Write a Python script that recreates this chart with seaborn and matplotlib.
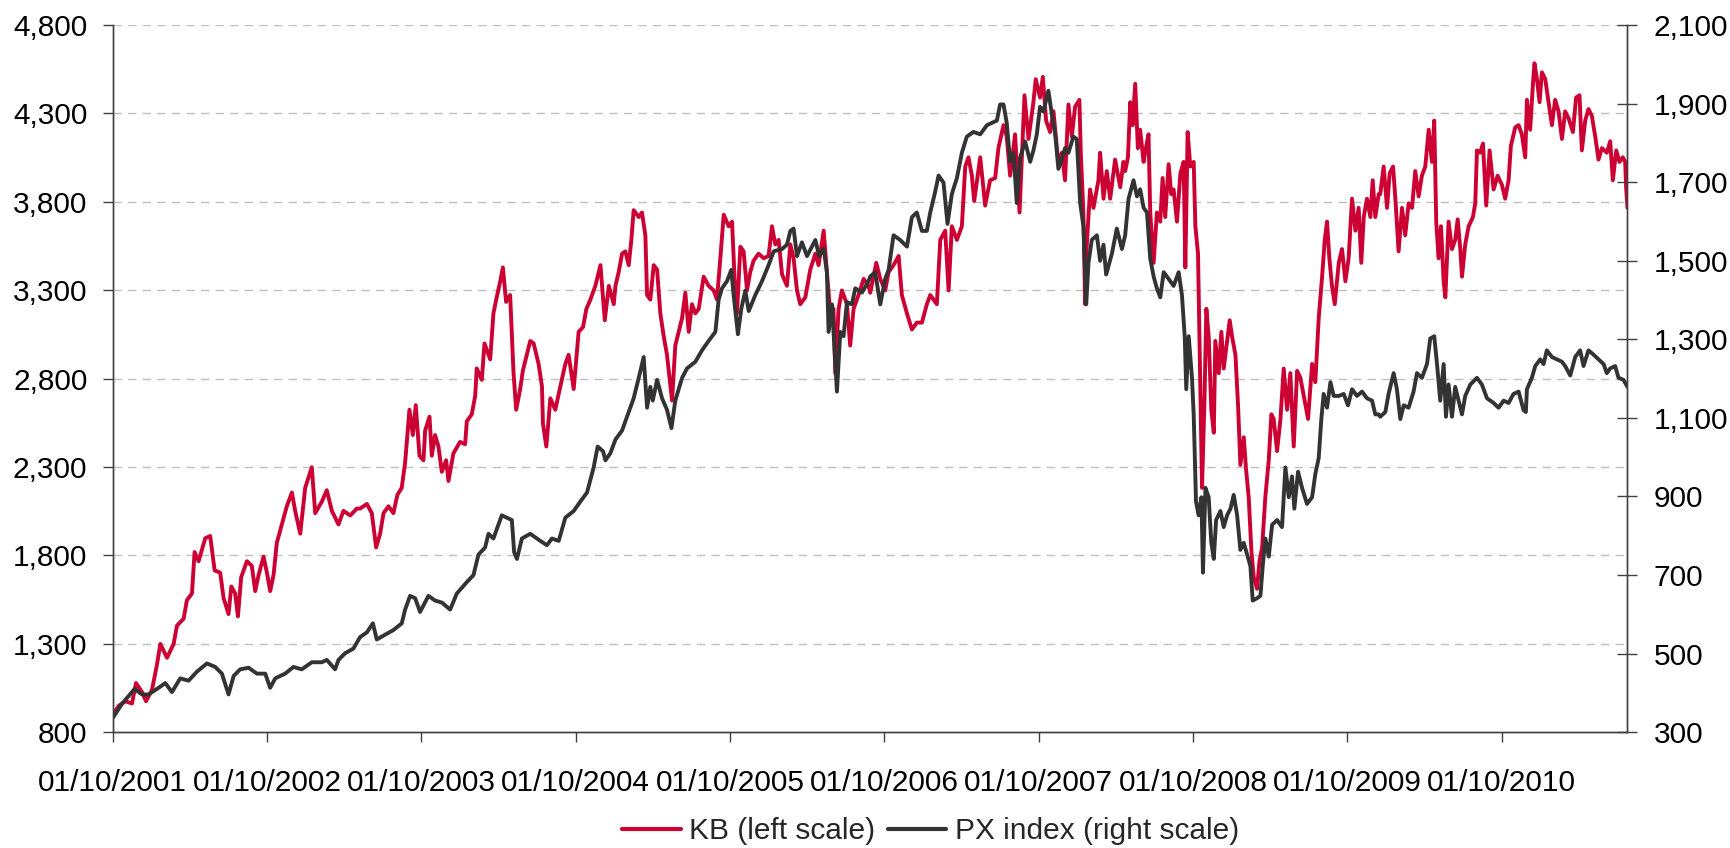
import numpy as np
import pandas as pd
import matplotlib
matplotlib.use("Agg")
import matplotlib.pyplot as plt
import matplotlib.dates as mdates
from matplotlib.lines import Line2D
from matplotlib.ticker import FuncFormatter, FixedLocator
import seaborn as sns

# ---------------- data (decimal years) ----------------
kb_years = [
    2001.750, 2001.787, 2001.830, 2001.873, 2001.899, 2001.938, 2001.964, 2002.003, 2002.035, 2002.057,
    2002.100, 2002.143, 2002.165, 2002.208, 2002.229, 2002.262, 2002.279, 2002.305, 2002.348, 2002.380,
    2002.409, 2002.445, 2002.467, 2002.499, 2002.517, 2002.542, 2002.560, 2002.581, 2002.618, 2002.650,
    2002.672, 2002.694, 2002.726, 2002.748, 2002.769, 2002.791, 2002.812, 2002.845, 2002.877, 2002.910,
    2002.931, 2002.964, 2002.996, 2003.039, 2003.061, 2003.104, 2003.136, 2003.169, 2003.212, 2003.244,
    2003.288, 2003.331,
    2003.352, 2003.396, 2003.428, 2003.456, 2003.482, 2003.504, 2003.536, 2003.568, 2003.594, 2003.622,
    2003.644, 2003.672, 2003.694, 2003.713, 2003.737, 2003.763, 2003.774, 2003.802, 2003.817, 2003.838,
    2003.860, 2003.882, 2003.910, 2003.925, 2003.957, 2004.000, 2004.033, 2004.044, 2004.076, 2004.098,
    2004.108, 2004.141, 2004.158, 2004.195, 2004.216, 2004.234, 2004.260, 2004.277, 2004.298, 2004.324,
    2004.346, 2004.363, 2004.389, 2004.406, 2004.428, 2004.454, 2004.476, 2004.508, 2004.530, 2004.536,
    2004.558, 2004.584, 2004.616, 2004.648, 2004.681, 2004.702, 2004.735, 2004.767, 2004.795, 2004.817,
    2004.843, 2004.875, 2004.908, 2004.936, 2004.962, 2004.994,
    2005.005, 2005.026, 2005.048, 2005.069, 2005.091, 2005.108, 2005.123, 2005.156, 2005.177, 2005.199,
    2005.210, 2005.231, 2005.253, 2005.275, 2005.296, 2005.318, 2005.339, 2005.372, 2005.393, 2005.415,
    2005.437, 2005.458, 2005.480, 2005.501, 2005.523, 2005.545, 2005.577, 2005.609, 2005.642, 2005.663,
    2005.685, 2005.707, 2005.739, 2005.761, 2005.778, 2005.793, 2005.815, 2005.836, 2005.858, 2005.879,
    2005.901, 2005.933, 2005.966, 2005.998, 2006.020, 2006.041, 2006.063, 2006.085, 2006.117, 2006.139,
    2006.160, 2006.182, 2006.203, 2006.236, 2006.268, 2006.301, 2006.322, 2006.355, 2006.376, 2006.398,
    2006.419, 2006.430, 2006.452, 2006.473, 2006.506, 2006.527, 2006.549, 2006.581, 2006.614, 2006.646,
    2006.657, 2006.696, 2006.722, 2006.754, 2006.776, 2006.808, 2006.841, 2006.862, 2006.895, 2006.927,
    2006.959, 2006.992, 2007.024, 2007.046, 2007.089, 2007.111, 2007.143, 2007.165, 2007.186, 2007.219,
    2007.251, 2007.273, 2007.294, 2007.316, 2007.331, 2007.370, 2007.402, 2007.434, 2007.467, 2007.488,
    2007.521, 2007.542, 2007.564, 2007.596, 2007.625, 2007.646, 2007.657, 2007.683, 2007.715, 2007.730,
    2007.758, 2007.776, 2007.797, 2007.823, 2007.845, 2007.877, 2007.899, 2007.920, 2007.942, 2007.964,
    2007.985, 2008.013, 2008.022, 2008.039, 2008.050, 2008.061, 2008.082, 2008.104, 2008.136, 2008.147,
    2008.169, 2008.190, 2008.212, 2008.244, 2008.277, 2008.298,
    2008.309, 2008.327, 2008.342, 2008.357, 2008.374, 2008.391, 2008.406, 2008.428, 2008.443, 2008.460,
    2008.471, 2008.493, 2008.514, 2008.536, 2008.551, 2008.568, 2008.590, 2008.607, 2008.622, 2008.644,
    2008.666, 2008.687, 2008.698, 2008.713, 2008.730, 2008.752, 2008.763, 2008.780, 2008.789, 2008.806,
    2008.821, 2008.834, 2008.849, 2008.866, 2008.882, 2008.892, 2008.914, 2008.931, 2008.946, 2008.968,
    2008.985, 2009.000, 2009.022, 2009.039, 2009.054, 2009.076, 2009.091, 2009.108, 2009.126, 2009.141,
    2009.162, 2009.178, 2009.195, 2009.216, 2009.238, 2009.255, 2009.270, 2009.292, 2009.314, 2009.335,
    2009.357, 2009.378, 2009.400, 2009.422, 2009.443, 2009.465, 2009.493, 2009.519, 2009.540, 2009.562,
    2009.584, 2009.601, 2009.616, 2009.631, 2009.648, 2009.666, 2009.692, 2009.713, 2009.735, 2009.756,
    2009.778, 2009.800, 2009.821, 2009.838, 2009.854, 2009.875, 2009.897, 2009.912, 2009.929, 2009.951,
    2009.961, 2009.983, 2010.005, 2010.022, 2010.044, 2010.059, 2010.080, 2010.102, 2010.123, 2010.145,
    2010.167, 2010.188, 2010.210, 2010.231, 2010.253, 2010.275, 2010.296, 2010.311, 2010.324, 2010.339,
    2010.355, 2010.372, 2010.383, 2010.404, 2010.426, 2010.447, 2010.463, 2010.480, 2010.491, 2010.512,
    2010.534, 2010.562, 2010.577, 2010.588, 2010.609, 2010.627, 2010.648, 2010.670, 2010.696, 2010.722,
    2010.750, 2010.771, 2010.793, 2010.808, 2010.836, 2010.858, 2010.879, 2010.901, 2010.912, 2010.933,
    2010.951, 2010.961, 2010.977, 2010.994, 2011.009, 2011.031, 2011.052, 2011.074, 2011.095, 2011.117,
    2011.139, 2011.160, 2011.182, 2011.210, 2011.231, 2011.253, 2011.268, 2011.290, 2011.311, 2011.333,
    2011.355, 2011.376, 2011.398, 2011.430, 2011.452, 2011.469, 2011.491, 2011.512, 2011.534, 2011.549,
    2011.555, 2011.564,
]
kb_values = [
    900, 949, 975, 962, 1078, 1027, 975, 1040, 1182, 1299,
    1221, 1299, 1403, 1442, 1546, 1585, 1819, 1767, 1897, 1910,
    1715, 1702, 1559, 1468, 1624, 1585, 1455, 1676, 1767, 1741,
    1598, 1689, 1793, 1702, 1598, 1689, 1871, 1975, 2078, 2156,
    2052, 1923, 2182, 2299, 2039, 2104, 2169, 2052, 1975, 2052,
    2026, 2065,
    2065, 2091, 2039, 1845, 1923, 2039, 2078, 2039, 2143, 2182,
    2325, 2624, 2481, 2650, 2364, 2338, 2507, 2585, 2364, 2481,
    2416, 2273, 2338, 2221, 2377, 2442, 2429, 2559, 2598, 2702,
    2858, 2793, 2999, 2909, 3169, 3247, 3351, 3429, 3234, 3273,
    2831, 2624, 2741, 2844, 2922, 3013, 2999, 2883, 2754, 2546,
    2416, 2689, 2624, 2754, 2883, 2935, 2741, 3065, 3091, 3195,
    3247, 3325, 3442, 3130, 3325, 3221,
    3325, 3403, 3507, 3520, 3442, 3585, 3753, 3714, 3740, 3610,
    3273, 3247, 3442, 3416, 3169, 3039, 2935, 2676, 2987, 3065,
    3143, 3286, 3065, 3221, 3169, 3195, 3377, 3325, 3299, 3247,
    3481, 3727, 3662, 3688, 3351, 3169, 3546, 3520, 3299, 3403,
    3468, 3507, 3481, 3494, 3662, 3559, 3585, 3390, 3325, 3559,
    3481, 3299, 3221, 3260, 3416, 3507, 3442, 3637, 3403, 3169,
    3195, 2831, 3195, 3299, 3221, 2987, 3195, 3273, 3364, 3325,
    3286, 3455, 3364, 3299, 3403, 3442, 3494, 3273, 3169, 3078,
    3117, 3117, 3221, 3273, 3221, 3585, 3637, 3299, 3662, 3585,
    3662, 4000, 4052, 3948, 3805, 4052, 3779, 3922, 3935, 4104,
    4234, 4169, 3948, 4182, 3740, 4169, 4403, 4156, 4364, 4494,
    4390, 4507, 4260, 4195, 4312, 4013, 4078, 3922, 4351, 4169,
    4338, 4377, 4078, 3740, 3221, 3559, 3870, 3766, 3922, 4078,
    3818, 3974, 3818, 4039, 3883, 4026,
    3974, 4052, 4364, 4234, 4468, 4104, 4208, 4026, 4104, 4182,
    3740, 3455, 3740, 3688, 3935, 3714, 4013, 3844, 3870, 3688,
    3961, 4026, 3429, 4195, 4000, 4026, 3662, 3507, 3039, 2182,
    2650, 3195, 3039, 2624, 2494, 3013, 2831, 3065, 2857, 3013,
    3130, 3039, 2935, 2650, 2312, 2468, 2286, 2130, 1819, 1676,
    1611, 1767, 1845, 2130, 2338, 2598, 2572, 2390, 2572, 2857,
    2624, 2831, 2416, 2844, 2805, 2702, 2572, 2883, 2780, 3143,
    3377, 3585, 3688, 3481, 3325, 3221, 3455, 3533, 3351, 3481,
    3818, 3637, 3766, 3455, 3714, 3818, 3714, 3922, 3714, 3844,
    3844, 4000, 3766, 3961, 4000, 3818, 3520, 3766, 3611, 3792,
    3766, 3974, 3831, 3948, 4000, 4208, 4026, 4260, 3688, 3481,
    3662, 3351, 3260, 3688, 3533, 3585, 3701, 3533, 3377, 3559,
    3662, 3714, 3792, 4091, 4078, 4130, 3779, 4091, 3870, 3948,
    3896, 3818, 3922, 4117, 4221, 4234, 4182, 4052, 4377, 4208,
    4468, 4584, 4494, 4364, 4533, 4494, 4364, 4234, 4377, 4312,
    4156, 4312, 4273, 4195, 4390, 4403, 4091, 4260, 4325, 4286,
    4169, 4039, 4104, 4078, 4143, 3922, 4091, 4026, 4052, 4026,
    3883, 3766,
]

px_years = [
    2001.750, 2001.808, 2001.890, 2001.938, 2001.981, 2002.046, 2002.089, 2002.132, 2002.186, 2002.240,
    2002.294, 2002.359, 2002.413, 2002.456, 2002.499, 2002.532, 2002.575, 2002.629, 2002.683, 2002.737,
    2002.769, 2002.802, 2002.866, 2002.920, 2002.974, 2003.039, 2003.104, 2003.136, 2003.190, 2003.212,
    2003.255, 2003.309,
    2003.352, 2003.396, 2003.435, 2003.460, 2003.514, 2003.568, 2003.622, 2003.644, 2003.676, 2003.709,
    2003.741, 2003.795, 2003.838, 2003.882, 2003.936, 2003.979, 2004.044, 2004.087, 2004.119, 2004.162,
    2004.184, 2004.216, 2004.270, 2004.335, 2004.350, 2004.368, 2004.400, 2004.454, 2004.519, 2004.562,
    2004.594, 2004.638, 2004.681, 2004.735, 2004.778, 2004.821, 2004.864, 2004.890, 2004.925, 2004.940,
    2004.972,
    2005.005, 2005.048, 2005.080, 2005.123, 2005.156, 2005.188, 2005.210, 2005.231, 2005.247, 2005.275,
    2005.307, 2005.339, 2005.368, 2005.393, 2005.437, 2005.469, 2005.523, 2005.566, 2005.609, 2005.653,
    2005.674, 2005.696, 2005.728, 2005.756, 2005.771, 2005.799, 2005.821, 2005.847, 2005.869, 2005.912,
    2005.955, 2005.998, 2006.031, 2006.085, 2006.117, 2006.139, 2006.160, 2006.182, 2006.214, 2006.247,
    2006.279, 2006.301, 2006.326, 2006.355, 2006.376, 2006.387, 2006.409, 2006.441, 2006.463, 2006.484,
    2006.506, 2006.538, 2006.560, 2006.603, 2006.646,
    2006.657, 2006.689, 2006.722, 2006.754, 2006.776, 2006.808, 2006.851, 2006.895, 2006.927, 2006.959,
    2006.992, 2007.024, 2007.046, 2007.078, 2007.100, 2007.132, 2007.158, 2007.186, 2007.219, 2007.251,
    2007.283, 2007.326, 2007.370, 2007.413, 2007.445, 2007.478, 2007.499, 2007.521, 2007.542, 2007.564,
    2007.586, 2007.607, 2007.629, 2007.661, 2007.694, 2007.715, 2007.737, 2007.758, 2007.780, 2007.812,
    2007.834, 2007.856, 2007.877, 2007.899, 2007.920, 2007.942, 2007.974, 2007.996, 2008.007, 2008.018,
    2008.039, 2008.057, 2008.072, 2008.093, 2008.126, 2008.147, 2008.169, 2008.186, 2008.223, 2008.255,
    2008.288,
    2008.309, 2008.331, 2008.363, 2008.385, 2008.406, 2008.428, 2008.450, 2008.471, 2008.493, 2008.514,
    2008.536, 2008.558, 2008.590, 2008.622, 2008.655, 2008.676, 2008.694, 2008.704, 2008.720, 2008.741,
    2008.752, 2008.767, 2008.784, 2008.802, 2008.812, 2008.828, 2008.849, 2008.866, 2008.882, 2008.897,
    2008.925, 2008.946, 2008.968, 2008.990, 2009.011, 2009.033, 2009.054, 2009.076, 2009.098, 2009.119,
    2009.134, 2009.162, 2009.184, 2009.199, 2009.216, 2009.238, 2009.260, 2009.292, 2009.324, 2009.346,
    2009.368, 2009.389, 2009.404, 2009.428, 2009.454, 2009.486, 2009.519, 2009.540, 2009.562, 2009.579,
    2009.594, 2009.616, 2009.638, 2009.659, 2009.692, 2009.724, 2009.752, 2009.778, 2009.810, 2009.843,
    2009.875, 2009.908, 2009.929, 2009.951,
    2009.961, 2009.994, 2010.015, 2010.048, 2010.069, 2010.091, 2010.113, 2010.145, 2010.177, 2010.199,
    2010.231, 2010.264, 2010.285, 2010.311, 2010.329, 2010.350, 2010.372, 2010.387, 2010.404, 2010.426,
    2010.447, 2010.469, 2010.491, 2010.512, 2010.545, 2010.588, 2010.620, 2010.653, 2010.696, 2010.728,
    2010.761, 2010.793, 2010.825, 2010.858, 2010.890, 2010.905, 2010.912, 2010.944, 2010.966, 2010.998,
    2011.020, 2011.041, 2011.074, 2011.106, 2011.139, 2011.160, 2011.193, 2011.225, 2011.257, 2011.279,
    2011.311, 2011.344, 2011.376, 2011.409, 2011.430, 2011.452, 2011.484, 2011.506, 2011.538, 2011.564,
]
px_values = [
    337, 372, 410, 396, 396, 413, 425, 402, 437, 431,
    454, 475, 466, 449, 396, 443, 460, 464, 449, 449,
    413, 437, 449, 466, 460, 478, 478, 484, 460, 484,
    501, 513,
    542, 554, 577, 536, 548, 560, 577, 612, 647, 641,
    606, 647, 635, 630, 612, 653, 682, 700, 752, 770,
    805, 793, 852, 840, 758, 741, 793, 805, 787, 776,
    793, 787, 846, 863, 887, 910, 974, 1027, 1015, 992,
    1010,
    1045, 1068, 1103, 1150, 1202, 1255, 1126, 1179, 1144, 1197,
    1150, 1121, 1074, 1144, 1202, 1226, 1243, 1272, 1296, 1319,
    1401, 1430, 1448, 1477, 1413, 1313, 1378, 1424, 1372, 1413,
    1448, 1489, 1524, 1530, 1541, 1576, 1582, 1512, 1547, 1512,
    1536, 1553, 1512, 1530, 1471, 1319, 1389, 1167, 1319, 1308,
    1395, 1389, 1430, 1419, 1448,
    1460, 1471, 1389, 1454, 1477, 1565, 1553, 1536, 1611, 1623,
    1576, 1576, 1623, 1676, 1717, 1699, 1594, 1670, 1711, 1775,
    1816, 1828, 1822, 1845, 1851, 1857, 1898, 1898, 1851, 1752,
    1775, 1647, 1763, 1804, 1752, 1781, 1822, 1892, 1880, 1933,
    1874, 1822, 1734, 1758, 1787, 1775, 1816, 1810, 1728, 1647,
    1588, 1389, 1495, 1553, 1565, 1500, 1541, 1465, 1518, 1582,
    1530,
    1565, 1658, 1705, 1664, 1682, 1635, 1623, 1506, 1460, 1430,
    1407, 1471, 1454, 1436, 1471, 1413, 1308, 1173, 1308, 1202,
    1109, 887, 852, 898, 706, 922, 898, 782, 741, 840,
    863, 822, 852, 869, 904, 852, 764, 782, 752, 723,
    635, 641, 647, 723, 793, 747, 828, 840, 822, 974,
    898, 951, 869, 963, 922, 881, 898, 957, 998, 1097,
    1161, 1126, 1191, 1156, 1156, 1161, 1132, 1173, 1156, 1167,
    1150, 1144, 1109, 1109,
    1103, 1115, 1161, 1214, 1173, 1097, 1132, 1126, 1167, 1214,
    1202, 1237, 1302, 1308, 1237, 1144, 1237, 1103, 1185, 1103,
    1179, 1144, 1109, 1156, 1185, 1202, 1185, 1150, 1138, 1126,
    1144, 1138, 1161, 1167, 1120, 1115, 1173, 1202, 1232, 1249,
    1237, 1272, 1255, 1249, 1243, 1232, 1208, 1255, 1272, 1232,
    1272, 1261, 1249, 1237, 1214, 1226, 1232, 1202, 1197, 1179,
]

left_ticks = [800, 1300, 1800, 2300, 2800, 3300, 3800, 4300, 4800]
right_ticks = [300, 500, 700, 900, 1100, 1300, 1500, 1700, 1900, 2100]
x_tick_dates = ["2001-10-01", "2002-10-01", "2003-10-01", "2004-10-01", "2005-10-01",
                "2006-10-01", "2007-10-01", "2008-10-01", "2009-10-01", "2010-10-01"]
series_labels = ["KB (left scale)", "PX index (right scale)"]


def to_dates(years):
    out = []
    for y in years:
        yi = int(np.floor(y))
        start = pd.Timestamp(year=yi, month=1, day=1)
        end = pd.Timestamp(year=yi + 1, month=1, day=1)
        out.append(start + (end - start) * (y - yi))
    return pd.to_datetime(out)


kb_df = pd.DataFrame({"date": to_dates(kb_years), "value": kb_values})
px_df = pd.DataFrame({"date": to_dates(px_years), "value": px_values})

# ---------------- style ----------------
sns.set_style("white")
plt.rcParams["font.family"] = ["Liberation Sans", "DejaVu Sans"]
FS = 21.5
RED = "#CC0033"
DARK = "#333333"
AXC = "#404040"

fig = plt.figure(figsize=(17.31, 8.48), dpi=100)
ax = fig.add_axes([0.0651, 0.1366, 0.8751, 0.8338])
ax2 = ax.twinx()

sns.lineplot(data=kb_df, x="date", y="value", ax=ax, color=RED, linewidth=2.8,
             estimator=None, sort=True, legend=False)
sns.lineplot(data=px_df, x="date", y="value", ax=ax2, color=DARK, linewidth=2.8,
             estimator=None, sort=True, legend=False)

ax.set_xlim(kb_df["date"].min(), kb_df["date"].max())
ax.set_ylim(800, 4800)
ax2.set_ylim(300, 2100)

ax.yaxis.set_major_locator(FixedLocator(left_ticks))
ax2.yaxis.set_major_locator(FixedLocator(right_ticks))
fmt = FuncFormatter(lambda v, p: f"{int(v):,}")
ax.yaxis.set_major_formatter(fmt)
ax2.yaxis.set_major_formatter(fmt)

ax.set_xticks(pd.to_datetime(x_tick_dates))
ax.xaxis.set_major_formatter(mdates.DateFormatter("%d/%m/%Y"))

ax.set_xlabel("")
ax.set_ylabel("")
ax2.set_ylabel("")

ax.grid(False)
ax2.grid(False)
for v in left_ticks[1:]:
    ax.axhline(v, color="#BFBFBF", linewidth=1.0, linestyle=(0, (6, 4.5)), zorder=0)

for a in (ax, ax2):
    a.spines["top"].set_visible(False)
    for s in ("left", "right", "bottom"):
        a.spines[s].set_color(AXC)
        a.spines[s].set_linewidth(1.0)

ax.tick_params(axis="y", which="major", direction="out", length=7.2, width=1.0,
               color=AXC, labelsize=FS, pad=11, left=True, labelcolor="black")
ax.tick_params(axis="x", which="major", direction="out", length=7.2, width=1.0,
               color=AXC, labelsize=FS, pad=19.5, bottom=True, labelcolor="black")
ax2.tick_params(axis="y", which="major", direction="inout", length=14.4, width=1.0,
                color=AXC, labelsize=FS, pad=11.5, right=True, labelcolor="black")

handles = [Line2D([0], [0], color=RED, lw=3.0), Line2D([0], [0], color=DARK, lw=3.0)]
fig.legend(handles, series_labels, loc="center", bbox_to_anchor=(0.5377, 0.020),
           ncol=2, frameon=False, fontsize=FS, handlelength=1.96, handletextpad=0.29,
           columnspacing=0.41, borderpad=0.1)

fig.savefig("out.png", dpi=100)
